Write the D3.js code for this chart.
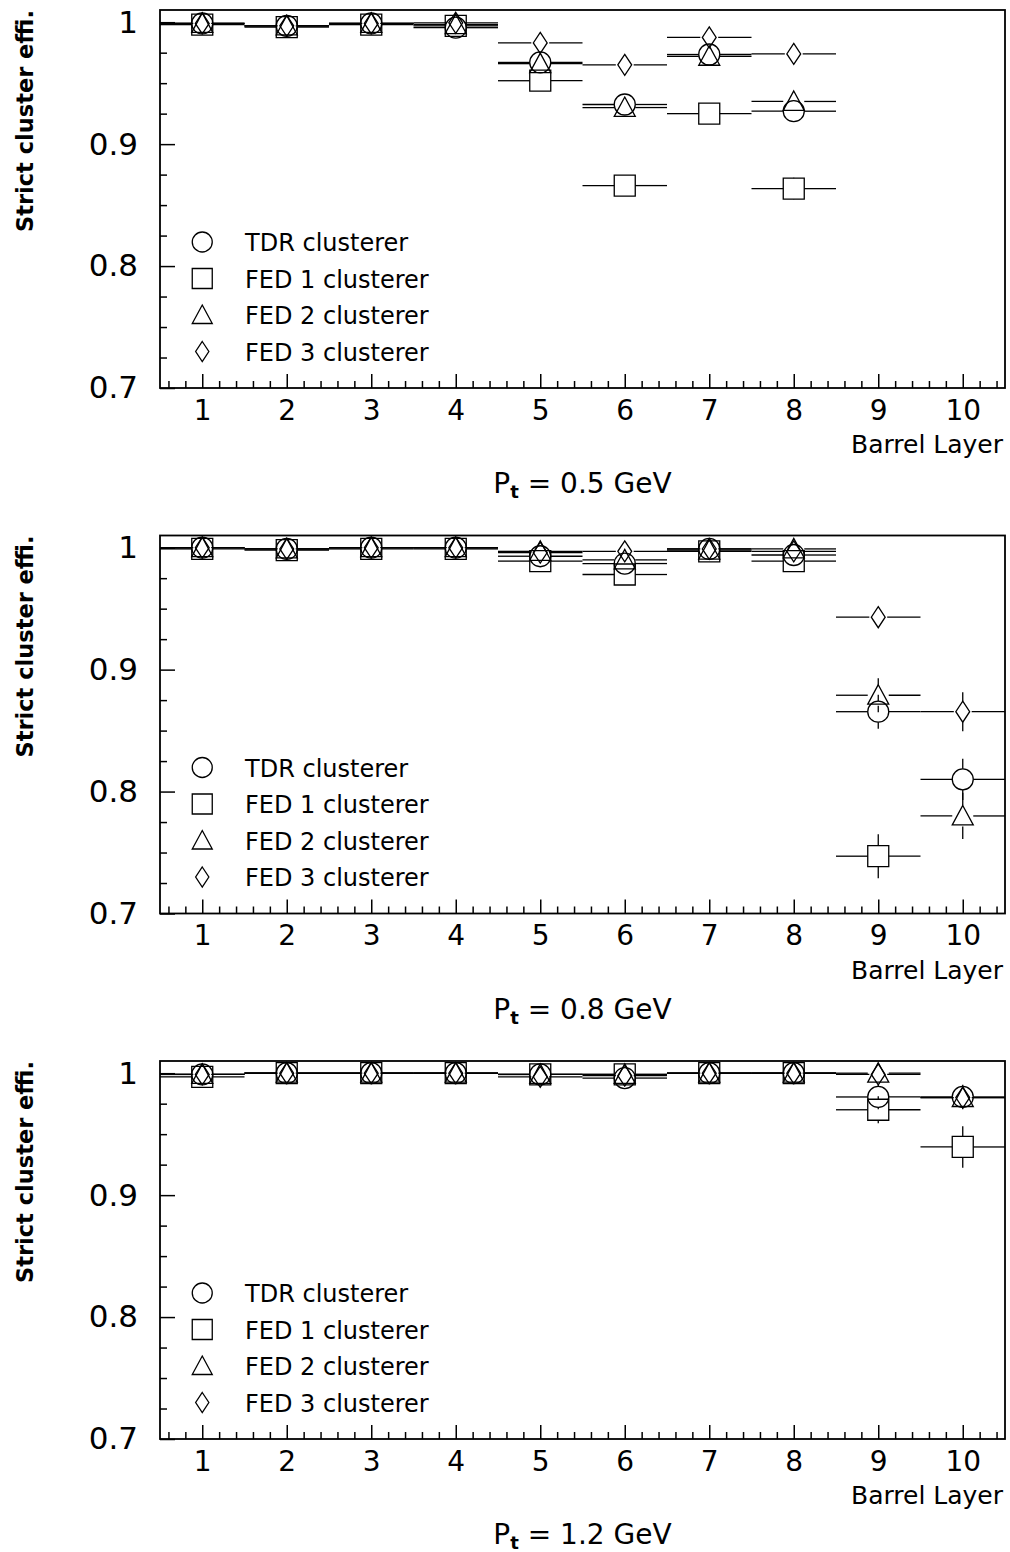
<!DOCTYPE html>
<html>
<head>
<meta charset="utf-8">
<script src="https://cdn.jsdelivr.net/npm/d3@7"></script>
<style>
    body { margin: 0; background: #fff; }
    text { font-family: "DejaVu Sans", sans-serif; fill: #000; }
</style>
</head>
<body>
<div id="wrapper"></div>
<script>
const layers = [1, 2, 3, 4, 5, 6, 7, 8, 9, 10];
const seriesLabels = ["TDR clusterer", "FED 1 clusterer", "FED 2 clusterer", "FED 3 clusterer"];
const seriesShapes = ["circle", "square", "triangle", "diamond"];
const yTickValues = [0.7, 0.8, 0.9, 1];
const ptLabels = ["0.5", "0.8", "1.2"];

// Pt = 0.5 GeV
const tdr05  = [0.999, 0.997, 0.999, 0.9955, 0.967, 0.9325, 0.9735, 0.927, null, null];
const fed1_05 = [0.998, 0.996, 0.998, 0.997, 0.952, 0.866, 0.925, 0.8635, null, null];
const fed2_05 = [0.999, 0.997, 0.999, 0.998, 0.966, 0.930, 0.972, 0.935, null, null];
const fed3_05 = [0.999, 0.997, 0.999, 0.9995, 0.983, 0.965, 0.9875, 0.974, null, null];
const errTdr05  = [0.002, 0.002, 0.002, 0.003, 0.005, 0.006, 0.004, 0.006, 0, 0];
const errFed1_05 = [0.002, 0.002, 0.002, 0.003, 0.006, 0.008, 0.006, 0.009, 0, 0];
const errFed2_05 = [0.002, 0.002, 0.002, 0.003, 0.005, 0.006, 0.004, 0.006, 0, 0];
const errFed3_05 = [0.002, 0.002, 0.002, 0.002, 0.004, 0.005, 0.003, 0.004, 0, 0];

// Pt = 0.8 GeV
const tdr08  = [1.0, 0.999, 1.0, 1.0, 0.993, 0.987, 0.999, 0.994, 0.8655, 0.810];
const fed1_08 = [0.999, 0.998, 0.999, 0.999, 0.989, 0.978, 0.997, 0.989, 0.747, null];
const fed2_08 = [1.0, 0.999, 1.0, 1.0, 0.997, 0.990, 0.998, 0.999, 0.879, 0.780];
const fed3_08 = [1.0, 0.999, 1.0, 1.0, 0.996, 0.997, 0.999, 0.997, 0.943, 0.8655];
const errTdr08  = [0.001, 0.001, 0.001, 0.001, 0.003, 0.004, 0.002, 0.003, 0.014, 0.017];
const errFed1_08 = [0.001, 0.001, 0.001, 0.001, 0.004, 0.005, 0.002, 0.004, 0.018, 0];
const errFed2_08 = [0.001, 0.001, 0.001, 0.001, 0.002, 0.004, 0.002, 0.002, 0.014, 0.019];
const errFed3_08 = [0.001, 0.001, 0.001, 0.001, 0.002, 0.002, 0.001, 0.002, 0.008, 0.016];

// Pt = 1.2 GeV
const tdr12  = [0.999, 1.0, 1.0, 1.0, 0.999, 0.996, 1.0, 1.0, 0.9805, 0.9805];
const fed1_12 = [0.997, 1.0, 1.0, 1.0, 0.999, 0.999, 1.0, 1.0, 0.970, 0.9395];
const fed2_12 = [0.999, 1.0, 1.0, 1.0, 0.999, 0.999, 1.0, 1.0, 1.0, 0.980];
const fed3_12 = [0.999, 1.0, 1.0, 1.0, 0.997, 0.998, 1.0, 1.0, 0.999, 0.980];
const errTdr12  = [0.001, 0.001, 0.001, 0.001, 0.001, 0.002, 0.001, 0.001, 0.010, 0.010];
const errFed1_12 = [0.001, 0.001, 0.001, 0.001, 0.001, 0.001, 0.001, 0.001, 0.011, 0.017];
const errFed2_12 = [0.001, 0.001, 0.001, 0.001, 0.001, 0.001, 0.001, 0.001, 0.004, 0.008];
const errFed3_12 = [0.001, 0.001, 0.001, 0.001, 0.001, 0.001, 0.001, 0.001, 0.004, 0.008];

const panels = [
    { pt: ptLabels[0], values: [tdr05, fed1_05, fed2_05, fed3_05], errors: [errTdr05, errFed1_05, errFed2_05, errFed3_05] },
    { pt: ptLabels[1], values: [tdr08, fed1_08, fed2_08, fed3_08], errors: [errTdr08, errFed1_08, errFed2_08, errFed3_08] },
    { pt: ptLabels[2], values: [tdr12, fed1_12, fed2_12, fed3_12], errors: [errTdr12, errFed1_12, errFed2_12, errFed3_12] }
];

// marker outline centred on 0,0 (ROOT open markers 24-27)
function markerPath(shape, r) {
    const p = d3.path();
    if (shape === "circle") {
        p.moveTo(r, 0);
        p.arc(0, 0, r, 0, 2 * Math.PI);
    } else if (shape === "square") {
        p.rect(-r, -r, 2 * r, 2 * r);
    } else if (shape === "triangle") {
        p.moveTo(0, -r);
        p.lineTo(r, r * 0.85);
        p.lineTo(-r, r * 0.85);
        p.closePath();
    } else {
        p.moveTo(0, -r);
        p.lineTo(r * 0.66, 0);
        p.lineTo(0, r);
        p.lineTo(-r * 0.66, 0);
        p.closePath();
    }
    return p.toString();
}

function halfWidth(shape, r) {
    return shape === "diamond" ? r * 0.66 + 2 : r;
}

function drawChart() {
    let dimensions = {
        width: 1010,
        height: 1552,
        panelStep: 525.5,
        plotHeight: 378,
        margins: { top: 10, left: 160, right: 5 }
    };
    dimensions.boundedWidth = dimensions.width - dimensions.margins.left - dimensions.margins.right;

    const markerR = 10.5;

    const wrapper = d3.select("#wrapper")
        .append("svg")
        .attr("width", dimensions.width)
        .attr("height", dimensions.height);

    const xScale = d3.scaleLinear()
        .domain([0.5, 10.5])
        .range([0, dimensions.boundedWidth]);

    const yScale = d3.scaleLinear()
        .domain([0.7, 1.01])
        .range([dimensions.plotHeight, 0]);

    const xMinor = d3.range(0.6, 10.45, 0.2).filter(v => Math.abs(v - Math.round(v)) > 0.01);
    const yMinor = d3.range(0.725, 1.0, 0.025).filter(v => Math.abs(v * 10 - Math.round(v * 10)) > 0.01);

    panels.forEach((panel, i) => {
        const bounds = wrapper.append("g")
            .attr("transform", `translate(${dimensions.margins.left}, ${dimensions.margins.top + i * dimensions.panelStep})`);

        // y axis
        const yAxis = bounds.append("g")
            .call(d3.axisLeft(yScale)
                .tickValues(yTickValues)
                .tickSizeInner(-15)
                .tickSizeOuter(0)
                .tickPadding(22)
                .tickFormat(d => d === 1 ? "1" : d3.format(".1f")(d)));
        yAxis.select(".domain").remove();
        yAxis.selectAll("line").attr("stroke", "#000").attr("stroke-width", 1.5);
        yAxis.selectAll("text").style("font-size", "31px").attr("fill", "#000");

        bounds.append("g")
            .call(d3.axisLeft(yScale).tickValues(yMinor).tickSizeInner(-7).tickSizeOuter(0).tickFormat(""))
            .call(g => g.select(".domain").remove())
            .selectAll("line").attr("stroke", "#000").attr("stroke-width", 1.5);

        // x axis
        const xAxis = bounds.append("g")
            .attr("transform", `translate(0, ${dimensions.plotHeight})`)
            .call(d3.axisBottom(xScale)
                .tickValues(layers)
                .tickSizeInner(-14)
                .tickSizeOuter(0)
                .tickPadding(12)
                .tickFormat(d3.format("d")));
        xAxis.select(".domain").remove();
        xAxis.selectAll("line").attr("stroke", "#000").attr("stroke-width", 1.5);
        xAxis.selectAll("text").style("font-size", "28px").attr("fill", "#000");

        bounds.append("g")
            .attr("transform", `translate(0, ${dimensions.plotHeight})`)
            .call(d3.axisBottom(xScale).tickValues(xMinor).tickSizeInner(-7).tickSizeOuter(0).tickFormat(""))
            .call(g => g.select(".domain").remove())
            .selectAll("line").attr("stroke", "#000").attr("stroke-width", 1.5);

        // frame
        bounds.append("rect")
            .attr("x", 0)
            .attr("y", 0)
            .attr("width", dimensions.boundedWidth)
            .attr("height", dimensions.plotHeight)
            .attr("fill", "none")
            .attr("stroke", "#000")
            .attr("stroke-width", 1.8);

        // titles
        bounds.append("text")
            .attr("transform", `translate(${33 - dimensions.margins.left}, 0) rotate(-90)`)
            .attr("text-anchor", "end")
            .style("font-size", "22.5px")
            .style("font-weight", "bold")
            .text("Strict cluster effi.");

        bounds.append("text")
            .attr("x", dimensions.boundedWidth - 2)
            .attr("y", dimensions.plotHeight + 65)
            .attr("text-anchor", "end")
            .style("font-size", "25px")
            .text("Barrel Layer");

        const ptText = bounds.append("text")
            .attr("x", dimensions.boundedWidth / 2)
            .attr("y", dimensions.plotHeight + 105)
            .attr("text-anchor", "middle")
            .style("font-size", "28px");
        ptText.append("tspan").text("P");
        ptText.append("tspan").attr("dy", 5).style("font-size", "18px").style("font-weight", "bold").text("t");
        ptText.append("tspan").attr("dy", -5).text(` = ${panel.pt} GeV`);

        // data
        const plot = bounds.append("g");
        panel.values.forEach((vals, s) => {
            const shape = seriesShapes[s];
            const hw = halfWidth(shape, markerR);
            const points = layers
                .map((layer, k) => ({ layer, v: vals[k], e: panel.errors[s][k] }))
                .filter(d => d.v !== null);

            const g = plot.append("g")
                .attr("fill", "none")
                .attr("stroke", "#000")
                .attr("stroke-width", 1.3);

            points.forEach(d => {
                const cx = xScale(d.layer);
                const cy = yScale(d.v);
                const x0 = xScale(d.layer - 0.5);
                const x1 = xScale(d.layer + 0.5);
                g.append("line").attr("x1", x0).attr("x2", cx - hw).attr("y1", cy).attr("y2", cy);
                g.append("line").attr("x1", cx + hw).attr("x2", x1).attr("y1", cy).attr("y2", cy);
                const ePx = yScale(d.v - d.e) - cy;
                if (ePx > markerR) {
                    g.append("line").attr("x1", cx).attr("x2", cx).attr("y1", cy - ePx).attr("y2", cy - markerR);
                    g.append("line").attr("x1", cx).attr("x2", cx).attr("y1", cy + markerR).attr("y2", cy + ePx);
                }
                g.append("path")
                    .attr("d", markerPath(shape, markerR))
                    .attr("transform", `translate(${cx}, ${cy})`);
            });
        });

        // legend
        const legend = bounds.append("g");
        seriesLabels.forEach((label, s) => {
            const ly = dimensions.plotHeight - 146 + s * 36.5;
            legend.append("path")
                .attr("d", markerPath(seriesShapes[s], 10))
                .attr("transform", `translate(${xScale(1)}, ${ly})`)
                .attr("fill", "none")
                .attr("stroke", "#000")
                .attr("stroke-width", 1.3);
            legend.append("text")
                .attr("x", 85)
                .attr("y", ly + 9)
                .style("font-size", "24px")
                .text(label);
        });
    });
}

drawChart();
</script>
</body>
</html>
